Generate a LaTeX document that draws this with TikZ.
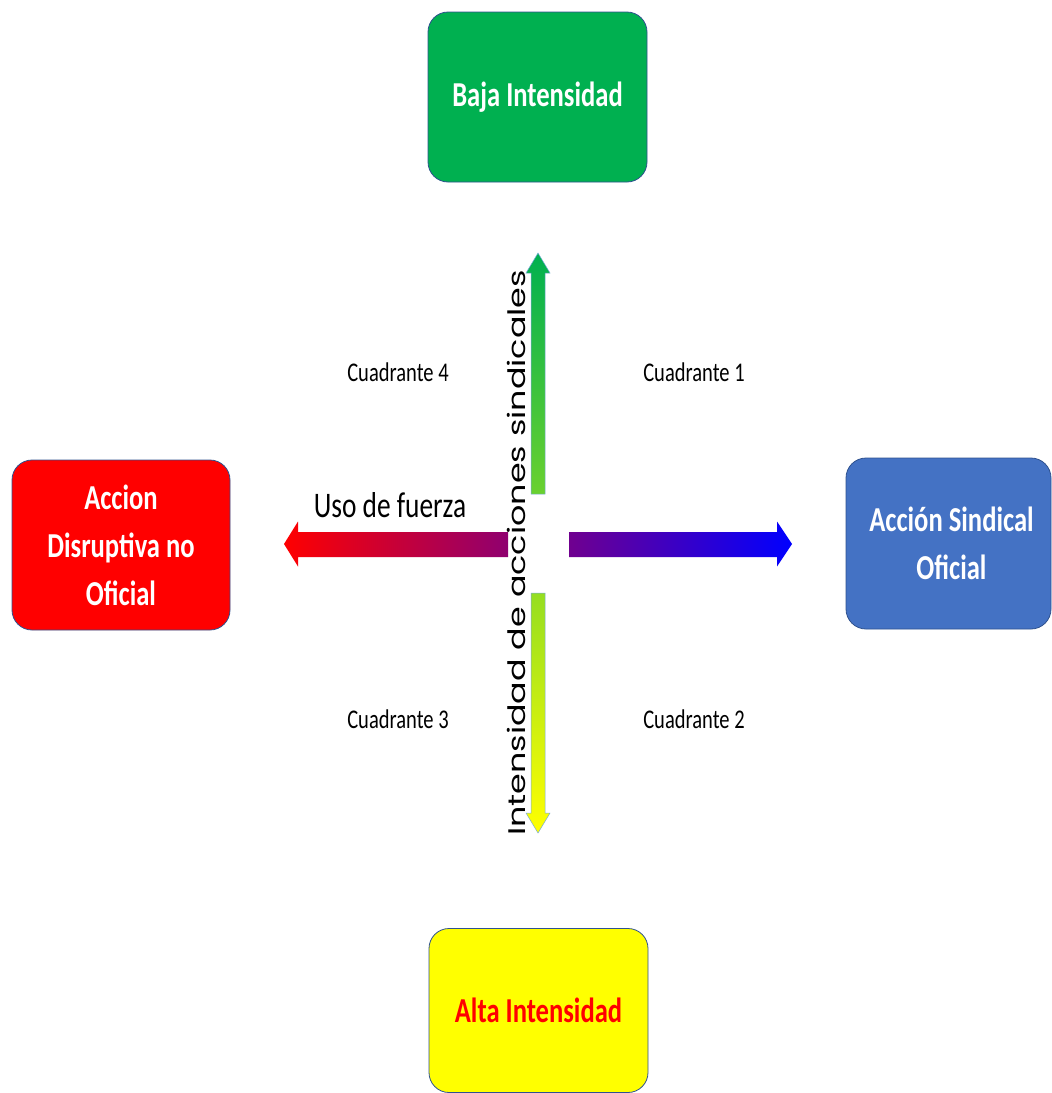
\documentclass[tikz,border=0pt]{standalone}
\usepackage{fontspec}
\setmainfont{Carlito}
\newfontfamily\calib[FakeStretch=0.76]{Carlito}
\newfontfamily\geo[FakeStretch=1.39]{Poppins}
\definecolor{bgreen}{RGB}{0,176,80}
\definecolor{bblue}{RGB}{68,114,196}
\definecolor{bred}{RGB}{255,0,0}
\definecolor{byellow}{RGB}{255,255,0}
\definecolor{edge}{RGB}{47,82,143}
\definecolor{hleft}{RGB}{143,0,112}
\definecolor{hright}{RGB}{112,0,143}
\definecolor{vtop}{RGB}{106,209,47}
\definecolor{vbot}{RGB}{149,222,33}
\definecolor{aline}{RGB}{120,170,220}
\begin{document}
\begin{tikzpicture}[x=1pt,y=-1pt,
  box/.style={draw=edge, line width=0.8pt, rounded corners=20pt, inner sep=0pt,
    align=center, text=white, font=\calib\bfseries\fontsize{35}{48}\selectfont},
  quad/.style={anchor=base, font=\calib\fontsize{27}{30}\selectfont},
  axislabel/.style={rotate=90, font=\geo\fontsize{24}{28}\selectfont}]
\useasboundingbox (0,0) rectangle (1052,1093);
% boxes
\node[box, fill=bgreen, minimum width=219pt, minimum height=170pt] (baja) at (537.5,97) {Baja Intensidad};
\node[box, fill=bred, minimum width=218pt, minimum height=170pt] (disr) at (121,545) {Accion\\Disruptiva no\\Oficial};
\node[box, fill=bblue, minimum width=205pt, minimum height=171pt] (ofic) at (948.5,543.5) {\hspace*{6pt}Acción Sindical\\\hspace*{6pt}Oficial};
\node[box, fill=byellow, text=red, minimum width=219pt, minimum height=164pt] (alta) at (538.5,1010.5) {Alta Intensidad};
% horizontal arrows
\shade[left color=bred, right color=hleft]
  (284,544) -- (298,521.5) -- (298,532) -- (508,532) -- (508,557) -- (298,557) -- (298,566.5) -- cycle;
\shade[left color=hright, right color=blue]
  (569,532) -- (777,532) -- (777,521.5) -- (792,544) -- (777,566.5) -- (777,557) -- (569,557) -- cycle;
% vertical arrows
\shadedraw[draw=aline, line width=0.5pt, top color=bgreen, bottom color=vtop]
  (531,494) -- (531,273) -- (526,273) -- (538,253) -- (550,273) -- (545,273) -- (545,494) -- cycle;
\shadedraw[draw=aline, line width=0.5pt, top color=vbot, bottom color=byellow]
  (531,593) -- (545,593) -- (545,813) -- (550,813) -- (538,833) -- (526,813) -- (531,813) -- cycle;
% labels
\node[axislabel] (eje) at (516,553) {Intensidad de acciones sindicales};
\node[quad, font=\calib\fontsize{36}{40}\selectfont] (fuerza) at (390,517) {Uso de fuerza};
\node[quad] (c4) at (398,381.5) {Cuadrante 4};
\node[quad] (c1) at (694,381.5) {Cuadrante 1};
\node[quad] (c3) at (398,728.5) {Cuadrante 3};
\node[quad] (c2) at (694,728.5) {Cuadrante 2};
\end{tikzpicture}
\end{document}
